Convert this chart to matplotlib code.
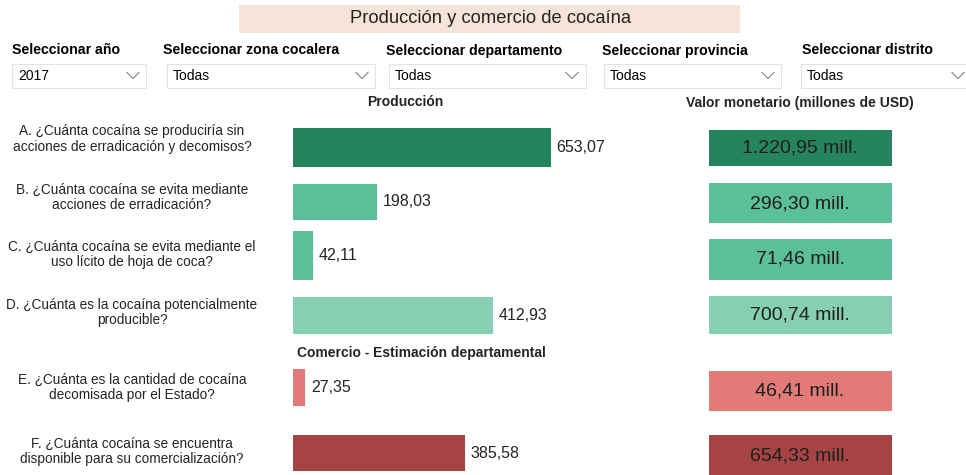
import matplotlib
matplotlib.use("Agg")
import matplotlib.pyplot as plt
from matplotlib.patches import Rectangle
from matplotlib.lines import Line2D

# ---------------- data ----------------
title = "Producción y comercio de cocaína"
filter_labels = ["Seleccionar año", "Seleccionar zona cocalera", "Seleccionar departamento",
                 "Seleccionar provincia", "Seleccionar distrito"]
filter_values = ["2017", "Todas", "Todas", "Todas", "Todas"]

questions = [
    "A. ¿Cuánta cocaína se produciría sin\nacciones de erradicación y decomisos?",
    "B. ¿Cuánta cocaína se evita mediante\nacciones de erradicación?",
    "C. ¿Cuánta cocaína se evita mediante el\nuso lícito de hoja de coca?",
    "D. ¿Cuánta es la cocaína potencialmente\nproducible?",
    "E. ¿Cuánta es la cantidad de cocaína\ndecomisada por el Estado?",
    "F. ¿Cuánta cocaína se encuentra\ndisponible para su comercialización?",
]
production = [653.07, 198.03, 42.11, 412.93, 27.35, 385.58]
production_labels = ["653,07", "198,03", "42,11", "412,93", "27,35", "385,58"]
value_usd = [1220.95, 296.30, 71.46, 700.74, 46.41, 654.33]
value_labels = ["1.220,95 mill.", "296,30 mill.", "71,46 mill.", "700,74 mill.", "46,41 mill.", "654,33 mill."]

colors = ["#268360", "#5BBF9A", "#5BBF9A", "#87CFB3", "#E27B78", "#A54442"]

# ---------------- layout (pixels) ----------------
W, H = 966, 475
plt.rcParams["font.family"] = ["Liberation Sans", "DejaVu Sans"]
fig = plt.figure(figsize=(W / 100, H / 100), dpi=100)
fig.patch.set_facecolor("white")

def fx(x):
    return x / W

def fy(y):
    return 1 - y / H

def ftext(x, y, s, **kw):
    fig.text(fx(x), fy(y), s, **kw)

# title box
fig.patches.append(Rectangle((fx(239), fy(33)), (740 - 239) / W, (33 - 5) / H,
                             transform=fig.transFigure, facecolor="#F6E4D9", edgecolor="none"))
ftext(490, 18.5, title, ha="center", va="center", fontsize=13.2, color="#252423")

# filters
lab_x = [12, 163, 386, 602, 802]
box_x = [(12, 146), (167, 375), (389, 586), (604, 781), (801, 970)]
for i in range(5):
    ftext(lab_x[i], 50.5, filter_labels[i], ha="left", va="center", fontsize=10.2,
          fontweight="bold", color="#000000")
    x0, x1 = box_x[i]
    fig.patches.append(Rectangle((fx(x0), fy(88)), (x1 - x0) / W, 24 / H,
                                 transform=fig.transFigure, facecolor="white",
                                 edgecolor="#E3E3E3", linewidth=0.8))
    ftext(x0 + 6, 76.5, filter_values[i], ha="left", va="center", fontsize=10,
          color="#000000")
    cx = [133, 362, 572, 768, 958][i]
    fig.lines.append(Line2D([fx(cx - 6), fx(cx), fx(cx + 6)], [fy(72.5), fy(78.5), fy(72.5)],
                            transform=fig.transFigure, color="#8C8C8C", linewidth=0.9))

# section headers
ftext(405, 101.5, "Producción", ha="center", va="center", fontsize=10, fontweight="bold", color="#252423")
ftext(800, 102.5, "Valor monetario (millones de USD)", ha="center", va="center", fontsize=10,
      fontweight="bold", color="#252423")
ftext(297, 353, "Comercio - Estimación departamental", ha="left", va="center", fontsize=10,
      fontweight="bold", color="#252423")

# rows
bar_top = [127.5, 184, 231, 297, 369, 435]
bar_bot = [166.5, 219.5, 280, 334, 406, 471]
box_top = [129.5, 183.5, 238.5, 296, 370.5, 435]
box_bot = [165.5, 223, 279.5, 334, 411, 476]
px_per_unit = [0.3946, 0.4227, 0.482, 0.485, 0.45, 0.447]
q_y = [139, 197.5, 254, 312.5, 387.5, 451]
bar_left = 293
ax_w = 330

for i in range(6):
    # question text
    ftext(132, q_y[i], questions[i], ha="center", va="center", fontsize=9.8,
          color="#252423", linespacing=1.12)
    # bar
    t, b = bar_top[i], bar_bot[i]
    ax = fig.add_axes([fx(bar_left), fy(b), ax_w / W, (b - t) / H])
    ax.barh([0], [production[i]], height=1.0, color=colors[i], edgecolor="none")
    ax.set_xlim(0, ax_w / px_per_unit[i])
    ax.set_ylim(-0.5, 0.5)
    ax.axis("off")
    ax.annotate(production_labels[i], xy=(production[i], 0), xytext=(4, 0),
                textcoords="offset points", ha="left", va="center",
                fontsize=11.5, color="#252423")
    # value card
    bt, bb = box_top[i], box_bot[i]
    fig.patches.append(Rectangle((fx(709), fy(bb)), (891.5 - 709) / W, (bb - bt) / H,
                                 transform=fig.transFigure, facecolor=colors[i],
                                 edgecolor="none"))
    ftext(800, (bt + bb) / 2 + 0.5, value_labels[i], ha="center", va="center",
          fontsize=14, color="#1E1E1E")

fig.savefig("out.png", dpi=100)
